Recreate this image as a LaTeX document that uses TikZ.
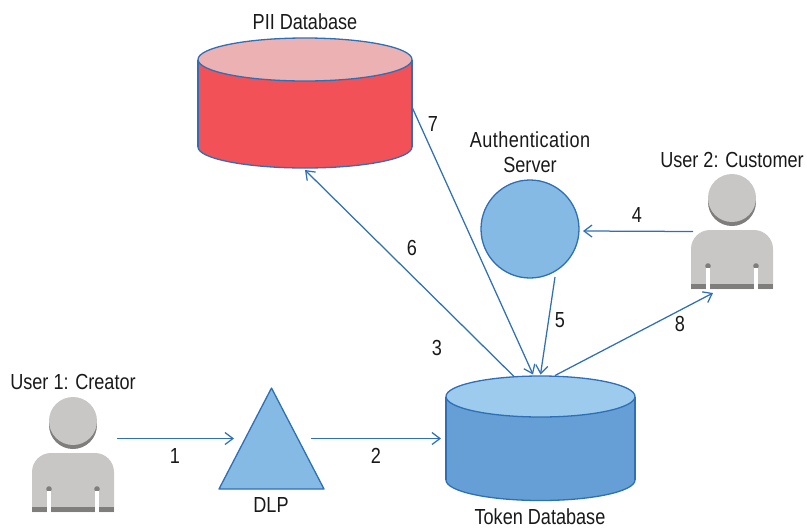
\documentclass[tikz,border=0pt]{standalone}
\usepackage{fontspec}
\setmainfont[FakeStretch=0.83]{Liberation Sans}
\usetikzlibrary{arrows.meta,calc}
\definecolor{edgeblue}{HTML}{2E6FB5}
\definecolor{piitop}{HTML}{ECB1B3}
\definecolor{piibody}{HTML}{F15157}
\definecolor{tokentop}{HTML}{9CCBEE}
\definecolor{tokenbody}{HTML}{659FD6}
\definecolor{shapeblue}{HTML}{85BAE5}
\definecolor{persongray}{HTML}{C8C7C6}
\definecolor{persondark}{HTML}{7F7E7D}
\tikzset{
  x=1pt,y=-1pt,
  bound/.style={inner sep=0pt,outer sep=0pt,draw=none,rectangle},
  outlined/.style={draw=edgeblue,line width=1.3pt},
  conn/.style={draw=edgeblue,line width=1.25pt,-{Straight Barb[length=8pt,width=12pt,line width=1.25pt]}},
  lbl/.style={inner sep=0pt,font=\fontsize{21.8}{25}\selectfont,text=black!90,align=center},
  person/.pic={
    \fill[persondark] (0,-29.5) circle[radius=24];
    \fill[persongray] (0,-33.5) circle[radius=24];
    \fill[persongray] (-41,57.5) -- (-41,20) [rounded corners=19pt] -- (-41,-1.5) -- (41,-1.5) [rounded corners=0pt] -- (41,20) -- (41,57.5) -- cycle;
    \fill[persondark] (-41,52.5) rectangle (41,57.5);
    \fill[persondark] (-24,34.5) circle[radius=2.8];
    \fill[persondark] (24,34.5) circle[radius=2.8];
    \fill[white] (-26.4,36) rectangle (-21.6,58);
    \fill[white] (21.6,36) rectangle (26.4,58);
  }
}
\begin{document}
\begin{tikzpicture}
\useasboundingbox (0,0) rectangle (807,528);
% anchors for shapes
\node[bound,minimum width=214pt,minimum height=130pt] (pii) at (305,103) {};
\node[bound,minimum width=189pt,minimum height=125pt] (token) at (540.5,438) {};
\node[bound,minimum width=105pt,minimum height=101pt] (dlp) at (271.5,438.5) {};
\node[bound,minimum width=82pt,minimum height=115pt] (user1) at (73,454.5) {};
\node[bound,minimum width=82pt,minimum height=115pt] (user2) at (732,231.5) {};
% PII database
\filldraw[outlined,fill=piibody] (305,147) ellipse[x radius=107,y radius=21];
\fill[piibody] (198,60) rectangle (412,147);
\draw[outlined] (pii.west |- 0,60) -- (pii.west |- 0,147) (pii.east |- 0,60) -- (pii.east |- 0,147);
\filldraw[outlined,fill=piitop] (305,59.5) ellipse[x radius=107,y radius=21.5];
% Token database
\filldraw[outlined,fill=tokenbody] (540.5,480) ellipse[x radius=94.5,y radius=20.5];
\fill[tokenbody] (446,397) rectangle (635,480);
\draw[outlined] (token.west |- 0,397) -- (token.west |- 0,480) (token.east |- 0,397) -- (token.east |- 0,480);
\filldraw[outlined,fill=tokentop] (540.5,396.5) ellipse[x radius=94.5,y radius=20.5];
% Authentication server
\node[circle,outlined,fill=shapeblue,minimum size=98pt,inner sep=0pt,outer sep=0pt] (auth) at (530,229) {};
% DLP
\filldraw[outlined,fill=shapeblue,line join=round] (dlp.north) -- (dlp.south west) -- (dlp.south east) -- cycle;
% People
\pic at (user1) {person};
\pic at (user2) {person};
% Connectors
\draw[conn] ($(user1.east)+(3,-16)$) -- ($(dlp.west)+(15,0)$);
\draw[conn] ($(dlp.east)+(-13,0)$) -- ($(token.west)+(-5,0.5)$);
\draw[conn] ($(user2.west)+(2,0)$) -- ($(auth.east)+(4,2)$);
\draw[conn] ($(auth.south)+(25,-1)$) -- ($(token.north)+(0,-1)$);
\draw[conn] ($(token.north)+(-26.5,1)$) -- ($(pii.south)+(0,2)$);
\draw[conn] ($(pii.east)+(0,4)$) -- ($(token.north)+(-7.5,-1)$);
\draw[conn] ($(token.north)+(14.5,0)$) -- ($(user2.south)+(-19,4)$);
% Labels
\node[lbl] (lpii) at (305,22) {PII Database};
\node[lbl] (lauth) at (530,152.5) {{\addfontfeature{LetterSpace=2}Authentication}\\Server};
\node[lbl] (lu2) at (732,160) {User 2: Customer};
\node[lbl] (lu1) at (73,382) {User 1: Creator};
\node[lbl] (ldlp) at (271,505) {DLP};
\node[lbl] (ltok) at (540,517) {Token Database};
\node[lbl] (n1) at (175,456) {1};
\node[lbl] (n2) at (376,456) {2};
\node[lbl] (n3) at (437,348) {3};
\node[lbl] (n4) at (637,215) {4};
\node[lbl] (n5) at (560,320) {5};
\node[lbl] (n6) at (412,248) {6};
\node[lbl] (n7) at (433,124) {7};
\node[lbl] (n8) at (680,324) {8};
\end{tikzpicture}
\end{document}
